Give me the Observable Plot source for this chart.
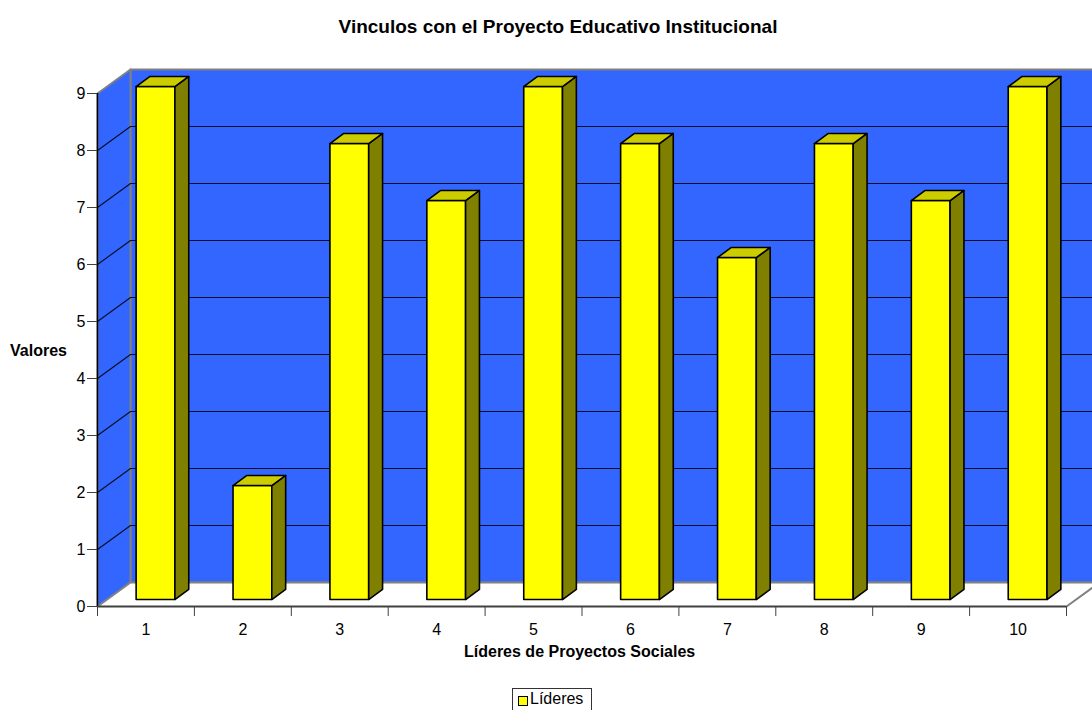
<!DOCTYPE html>
<html>
<head>
<meta charset="utf-8">
<script src="https://cdn.jsdelivr.net/npm/d3@7"></script>
<script src="https://cdn.jsdelivr.net/npm/@observablehq/plot@0.6"></script>
<style>
  html, body { margin: 0; padding: 0; background: #fff; }
  #wrap { position: relative; width: 1092px; height: 710px; overflow: hidden; font-family: "Liberation Sans", Arial, sans-serif; }
  #chart { position: absolute; left: 0; top: 0; }
  .lbl { position: absolute; font-weight: bold; color: #000; white-space: nowrap; }
  #title { left: 0; width: 1116px; top: 17px; text-align: center; font-size: 19px; line-height: 19px; }
  #ylab { left: 10px; top: 343px; font-size: 16px; line-height: 16px; }
  #xlab { left: 464px; top: 644px; font-size: 16px; line-height: 16px; }
  #legend { position: absolute; left: 512px; top: 688px; width: 80px; height: 30px; border: 1px solid #333; box-sizing: border-box; font-size: 16px; line-height: 16px; }
  #legend .sw { position: absolute; left: 5px; top: 7px; width: 8px; height: 8px; background: #ffff00; border: 1px solid #000; }
  #legend .tx { position: absolute; left: 17px; top: 2px; }
</style>
</head>
<body>
<div id="wrap">
  <div id="chart"></div>
  <div class="lbl" id="title">Vinculos con el Proyecto Educativo Institucional</div>
  <div class="lbl" id="ylab">Valores</div>
  <div class="lbl" id="xlab">Líderes de Proyectos Sociales</div>
  <div id="legend"><div class="sw"></div><div class="tx" id="legtext"></div></div>
</div>
<script>
// ---- data ----
const categories = [1, 2, 3, 4, 5, 6, 7, 8, 9, 10];
const catLabels = ["1", "2", "3", "4", "5", "6", "7", "8", "9", "10"];
const values = [9, 2, 8, 7, 9, 8, 6, 8, 7, 9];
const yTicks = [0, 1, 2, 3, 4, 5, 6, 7, 8, 9];
const seriesName = "Líderes";
document.getElementById("legtext").textContent = seriesName;

// ---- layout ----
const W = 1092, H = 710;
const mL = 97, mR = W - 1066, mT = 93, mB = H - 606;
const xUnit = (W - mR - mL) / 10;     // px per category
const yUnit = (H - mB - mT) / 9;      // px per value unit
const Dx = 33 / xUnit, Dy = 24 / yUnit;   // full depth in data units
const f0 = 0.29, f1 = 0.71;               // bar depth position
const hw = 0.2;                           // half bar width

const polys = [];
function poly(id, kind, pts) { pts.forEach(([x, y], k) => polys.push({id, kind, x, y, k})); }

// walls and floor
poly("back", "wall", [[0.5 + Dx, Dy], [10.5 + Dx, Dy], [10.5 + Dx, 9 + Dy], [0.5 + Dx, 9 + Dy]]);
poly("left", "wall", [[0.5, 0], [0.5, 9], [0.5 + Dx, 9 + Dy], [0.5 + Dx, Dy]]);
poly("floor", "floor", [[0.5, 0], [10.5, 0], [10.5 + Dx, Dy], [0.5 + Dx, Dy]]);

// grid lines
const grid = [];
yTicks.filter(t => t > 0 && t < 9).forEach(t => {
  grid.push({id: t, x: 0.5, y: t});
  grid.push({id: t, x: 0.5 + Dx, y: t + Dy});
  grid.push({id: t, x: 10.5 + Dx, y: t + Dy});
});

// bars
const faces = {front: [], side: [], top: []};
categories.forEach((c, i) => {
  const v = values[i];
  const x1 = c - hw + f0 * Dx, x2 = c + hw + f0 * Dx;
  const y1 = f0 * Dy, y2 = v + f0 * Dy;
  const ddx = (f1 - f0) * Dx, ddy = (f1 - f0) * Dy;
  const add = (arr, pts) => pts.forEach(([x, y]) => arr.push({id: c, x, y}));
  add(faces.front, [[x1, y1], [x2, y1], [x2, y2], [x1, y2]]);
  add(faces.side, [[x2, y1], [x2 + ddx, y1 + ddy], [x2 + ddx, y2 + ddy], [x2, y2]]);
  add(faces.top, [[x1, y2], [x2, y2], [x2 + ddx, y2 + ddy], [x1 + ddx, y2 + ddy]]);
});

const boundaries = d3.range(0.5, 11, 1);

const chart = Plot.plot({
  width: W, height: H,
  marginLeft: mL, marginRight: mR, marginTop: mT, marginBottom: mB,
  x: {domain: [0.5, 10.5]},
  y: {domain: [0, 9]},
  style: {fontFamily: "'Liberation Sans', Arial, sans-serif", fontSize: "16px", color: "#000", background: "transparent", overflow: "visible"},
  marks: [
    Plot.line(polys.filter(d => d.kind === "wall"), {x: "x", y: "y", z: "id", curve: "linear-closed", fill: "#3366ff", stroke: "#808080", strokeWidth: 2}),
    Plot.line(polys.filter(d => d.kind === "floor"), {x: "x", y: "y", z: "id", curve: "linear-closed", fill: "#ffffff", stroke: "#808080", strokeWidth: 2}),
    Plot.line(grid, {x: "x", y: "y", z: "id", stroke: "#000", strokeWidth: 1.2, strokeOpacity: 0.85}),
    Plot.line(faces.front, {x: "x", y: "y", z: "id", curve: "linear-closed", fill: "#ffff00", stroke: "#000", strokeWidth: 1.6}),
    Plot.line(faces.side, {x: "x", y: "y", z: "id", curve: "linear-closed", fill: "#808000", stroke: "#000", strokeWidth: 1.6}),
    Plot.line(faces.top, {x: "x", y: "y", z: "id", curve: "linear-closed", fill: "#cccc00", stroke: "#000", strokeWidth: 1.6}),
    Plot.ruleX([0.5], {y1: 0, y2: 9, stroke: "#000", strokeWidth: 1.5}),
    Plot.ruleY([0], {x1: 0.5, x2: 10.5, stroke: "#404040", strokeWidth: 1.5}),
    Plot.axisY({ticks: yTicks, tickSize: 10, tickPadding: 2, label: null, stroke: "#404040", fontSize: 16}),
    Plot.axisX({ticks: boundaries, tickSize: 10, tickFormat: () => "", label: null, stroke: "#404040"}),
    Plot.axisX({ticks: categories, tickSize: 0, tickPadding: 17, tickFormat: d => catLabels[categories.indexOf(d)], label: null, fontSize: 16})
  ]
});
document.getElementById("chart").appendChild(chart);
</script>
</body>
</html>
